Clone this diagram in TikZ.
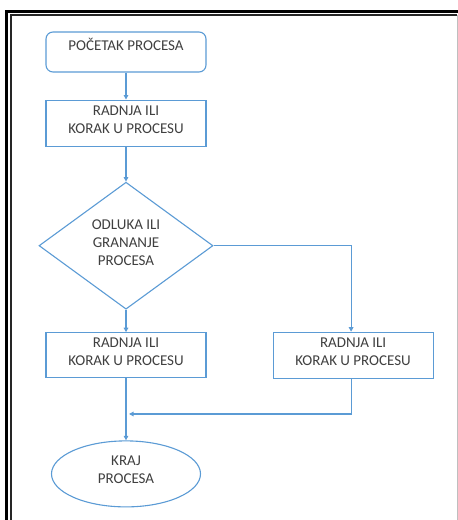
\documentclass[tikz,border=0pt]{standalone}
\usepackage{fontspec}
\setmainfont{Carlito}
\usetikzlibrary{positioning,shapes.geometric,arrows.meta}
\definecolor{flowblue}{HTML}{5B9BD5}
\definecolor{flowtext}{HTML}{404040}

\begin{document}
\begin{tikzpicture}[x=1pt,y=1pt,
    font=\fontsize{15}{18}\selectfont, text=flowtext,
    box/.style={draw=flowblue,line width=1.1pt,fill=white,align=center,inner sep=0pt},
    startbox/.style={box,rounded corners=7pt,minimum width=160pt,minimum height=40pt,text height=9.5pt,text depth=12.5pt},
    stepbox/.style={box,minimum width=160pt,minimum height=46pt,text depth=7pt},
    decision/.style={box,diamond,aspect=1.37,minimum width=174pt,minimum height=127pt,text depth=6pt},
    endbox/.style={box,ellipse,minimum width=149pt,minimum height=66pt,text depth=8pt},
    flow/.style={draw=flowblue,line width=1.1pt,-{Triangle[length=4.5pt,width=4.5pt]}}] %
  \useasboundingbox (0,0) rectangle (458,520); %
  % frame
  \draw[line width=2.6pt] (6.2,-20) -- (6.2,508.7) -- (480,508.7);
  \draw[line width=1.8pt,black!85] (11,-20) -- (11,505) -- (457,505);
  \draw[line width=0.8pt,black!25] (457,505) -- (457,-20);
  % nodes
  \node[startbox] (start) at (126,468) {POČETAK PROCESA}; %
  \node[stepbox, below=27pt of start] (step) {RADNJA ILI\\KORAK U PROCESU}; %
  \node[decision, below=35pt of step] (odluka) {ODLUKA ILI\\GRANANJE\\PROCESA}; %
  \node[stepbox, below=23pt of odluka, minimum height=45pt, yshift=0.5pt] (left) {RADNJA ILI\\KORAK U PROCESU}; %
  \node[stepbox, right=66pt of left] (right) {RADNJA ILI\\KORAK U PROCESU}; %
  \node[endbox, below=62pt of left] (kraj) {KRAJ\\PROCESA}; %
  \coordinate (merge) at (129,106);
  % connectors
  \draw[flow] (start) -- (step); %
  \draw[flow] (step) -- (odluka);
  \draw[flow] (odluka) -- (left);
  \draw[flow] (odluka.east) -| ([xshift=-2pt]right.north);
  \draw[flow] ([xshift=-2pt]right.south) |- (merge);
  \draw[flow] (left) -- (kraj);
\end{tikzpicture}
\end{document}
